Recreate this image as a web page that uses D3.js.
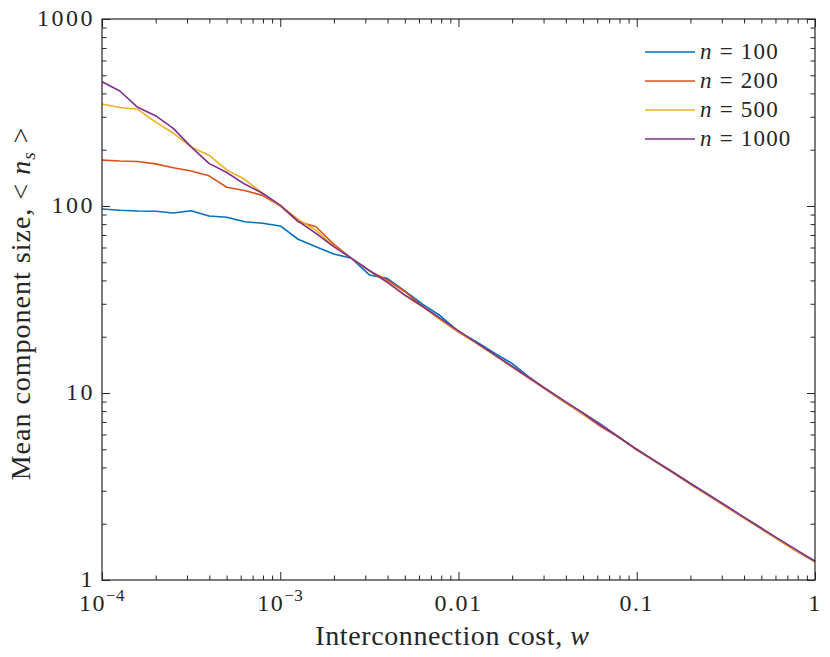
<!DOCTYPE html>
<html>
<head>
<meta charset="utf-8">
<script src="https://cdn.jsdelivr.net/npm/d3@7"></script>
<style>
  body { margin: 0; background: #fff; }
  text { font-family: "Liberation Serif", "DejaVu Serif", serif; fill: #262626; }
</style>
</head>
<body>
<script>
// interconnection cost grid (10 points per decade)
var costs = [
  1.000e-4, 1.259e-4, 1.585e-4, 1.995e-4, 2.512e-4, 3.162e-4, 3.981e-4, 5.012e-4, 6.310e-4, 7.943e-4,
  1.000e-3, 1.259e-3, 1.585e-3, 1.995e-3, 2.512e-3, 3.162e-3, 3.981e-3, 5.012e-3, 6.310e-3, 7.943e-3,
  1.000e-2, 1.259e-2, 1.585e-2, 1.995e-2, 2.512e-2, 3.162e-2, 3.981e-2, 5.012e-2, 6.310e-2, 7.943e-2,
  1.000e-1, 1.259e-1, 1.585e-1, 1.995e-1, 2.512e-1, 3.162e-1, 3.981e-1, 5.012e-1, 6.310e-1, 7.943e-1,
  1.000
];

// mean component size for each network size
var size100 = [
  96.4, 94.9, 94.0, 93.7, 91.8, 94.4, 88.4, 87.0, 82.4, 80.8,
  78.2, 66.4, 60.6, 55.4, 52.5, 42.8, 41.0, 35.0, 29.8, 25.8,
  21.3, 18.8, 16.4, 14.4, 12.1, 10.3, 8.9, 7.8, 6.8, 5.8,
  5.0, 4.32, 3.77, 3.28, 2.87, 2.50, 2.17, 1.89, 1.64, 1.43,
  1.26
];
var size200 = [
  176, 174, 173, 168, 160, 154, 145, 126, 121, 114,
  100, 82.5, 77.5, 62.5, 52.5, 45.0, 40.2, 34.8, 29.0, 24.6,
  21.2, 18.5, 16.0, 13.8, 11.9, 10.3, 8.9, 7.7, 6.6, 5.8,
  4.95, 4.33, 3.76, 3.26, 2.84, 2.47, 2.15, 1.87, 1.63, 1.42,
  1.25
];
var size500 = [
  351, 336, 329, 282, 245, 207, 187, 156, 139, 117,
  100, 85, 74, 61, 52.5, 45.0, 39.0, 33.2, 28.8, 24.8,
  21.4, 18.5, 16.0, 13.9, 12.0, 10.4, 8.95, 7.75, 6.7, 5.8,
  5.0, 4.34, 3.78, 3.28, 2.86, 2.49, 2.16, 1.88, 1.64, 1.43,
  1.25
];
var size1000 = [
  462, 412, 337, 304, 260, 207, 169, 151, 131, 117,
  101, 83, 71.4, 60.6, 52.5, 45.2, 39.2, 33.4, 29.0, 25.0,
  21.5, 18.6, 16.1, 13.9, 12.0, 10.4, 9.0, 7.8, 6.7, 5.8,
  5.0, 4.35, 3.79, 3.29, 2.87, 2.50, 2.17, 1.89, 1.65, 1.44,
  1.26
];

var seriesNames = ["100", "200", "500", "1000"];
var seriesValues = [size100, size200, size500, size1000];
var seriesColors = ["#0072BD", "#D95319", "#EDB120", "#7E2F8E"];

var xMajor = [1e-4, 1e-3, 1e-2, 1e-1, 1];
var xLabels = [["10", "\u22124"], ["10", "\u22123"], ["0.01"], ["0.1"], ["1"]];
var yMajor = [1, 10, 100, 1000];
var yLabels = ["1", "10", "100", "1000"];

window.onload = function() {
    var left = 102, right = 815, top = 19, bottom = 580;

    var svg = d3.select("body")
        .append("svg")
        .attr("width", 830)
        .attr("height", 657);

    var x = d3.scaleLog().domain([1e-4, 1]).range([left, right]);
    var y = d3.scaleLog().domain([1, 1000]).range([bottom, top]);

    // minor ticks: 2..9 in every decade
    var xMinor = [], yMinor = [];
    xMajor.slice(0, -1).forEach(function(d) {
        for (var m = 2; m < 10; m++) xMinor.push(d * m);
    });
    yMajor.slice(0, -1).forEach(function(d) {
        for (var m = 2; m < 10; m++) yMinor.push(d * m);
    });

    // series lines
    var line = d3.line()
        .x(function(d) { return x(d[0]); })
        .y(function(d) { return y(d[1]); });

    seriesValues.forEach(function(vals, i) {
        svg.append("path")
            .datum(costs.map(function(c, j) { return [c, vals[j]]; }))
            .attr("d", line)
            .attr("fill", "none")
            .attr("stroke", seriesColors[i])
            .attr("stroke-width", 1.6)
            .attr("stroke-linejoin", "round");
    });

    // inward ticks on all four sides
    var tickColor = "#262626";
    function addAxis(axis, transform, values, size) {
        var g = svg.append("g")
            .attr("transform", transform)
            .call(axis.tickValues(values).tickSize(-size).tickSizeOuter(0).tickFormat(""));
        g.select(".domain").remove();
        g.selectAll("line").attr("stroke", tickColor).attr("stroke-width", 1);
    }
    addAxis(d3.axisBottom(x), "translate(0," + bottom + ")", xMajor, 8);
    addAxis(d3.axisBottom(x), "translate(0," + bottom + ")", xMinor, 4.5);
    addAxis(d3.axisTop(x), "translate(0," + top + ")", xMajor, 8);
    addAxis(d3.axisTop(x), "translate(0," + top + ")", xMinor, 4.5);
    addAxis(d3.axisLeft(y), "translate(" + left + ",0)", yMajor, 8);
    addAxis(d3.axisLeft(y), "translate(" + left + ",0)", yMinor, 4.5);
    addAxis(d3.axisRight(y), "translate(" + right + ",0)", yMajor, 8);
    addAxis(d3.axisRight(y), "translate(" + right + ",0)", yMinor, 4.5);

    // box
    svg.append("rect")
        .attr("x", left).attr("y", top)
        .attr("width", right - left).attr("height", bottom - top)
        .attr("fill", "none")
        .attr("stroke", tickColor)
        .attr("stroke-width", 1.2);

    // x tick labels
    var xt = svg.selectAll(".xlab")
        .data(xMajor)
        .enter()
        .append("text")
        .attr("class", "xlab")
        .attr("x", function(d) { return x(d); })
        .attr("y", bottom + 31)
        .attr("text-anchor", "middle")
        .style("font-size", "24px")
        .style("letter-spacing", "1.5px");
    xt.each(function(d, i) {
        var t = d3.select(this);
        t.append("tspan").text(xLabels[i][0]);
        if (xLabels[i][1]) {
            t.append("tspan")
                .attr("dy", -10)
                .style("font-size", "17px")
                .style("letter-spacing", "0.5px")
                .text(xLabels[i][1]);
        }
    });

    // y tick labels
    svg.selectAll(".ylab")
        .data(yMajor)
        .enter()
        .append("text")
        .attr("class", "ylab")
        .attr("x", left - 7)
        .attr("y", function(d) { return y(d) + 7; })
        .attr("text-anchor", "end")
        .style("font-size", "24px")
        .style("letter-spacing", "2.5px")
        .text(function(d, i) { return yLabels[i]; });

    // axis titles
    var xTitle = svg.append("text")
        .attr("x", (left + right) / 2 - 6)
        .attr("y", 645)
        .attr("text-anchor", "middle")
        .style("font-size", "28px")
        .style("letter-spacing", "0.6px");
    xTitle.append("tspan").text("Interconnection cost, ");
    xTitle.append("tspan").style("font-style", "italic").text("w");

    var yTitle = svg.append("text")
        .attr("transform", "translate(30," + ((top + bottom) / 2 + 4) + ") rotate(-90)")
        .attr("text-anchor", "middle")
        .style("font-size", "28px")
        .style("letter-spacing", "1px");
    yTitle.append("tspan").text("Mean component size, < ");
    yTitle.append("tspan").style("font-style", "italic").text("n");
    yTitle.append("tspan").style("font-style", "italic").style("font-size", "19px").attr("dy", 5).text("s");
    yTitle.append("tspan").attr("dy", -5).text(" >");

    // legend
    var legend = svg.selectAll(".legend")
        .data(seriesNames)
        .enter()
        .append("g")
        .attr("class", "legend")
        .attr("transform", function(d, i) { return "translate(645," + (52 + i * 29) + ")"; });
    legend.append("line")
        .attr("x1", 0).attr("x2", 50)
        .attr("stroke", function(d, i) { return seriesColors[i]; })
        .attr("stroke-width", 1.6);
    var lt = legend.append("text")
        .attr("x", 55)
        .attr("y", 7)
        .style("font-size", "23px")
        .style("letter-spacing", "1.2px");
    lt.append("tspan").style("font-style", "italic").text("n");
    lt.append("tspan").text(function(d) { return " = " + d; });
};
</script>
</body>
</html>
